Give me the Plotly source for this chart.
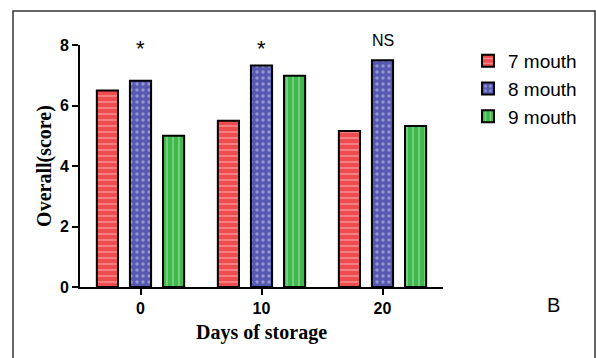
import plotly.graph_objects as go

days = ["0", "10", "20"]
series_names = ["7 mouth", "8 mouth", "9 mouth"]
v7 = [6.5, 5.5, 5.16]
v8 = [6.82, 7.32, 7.5]
v9 = [5.0, 6.98, 5.32]
sig_labels = ["*", "*", "NS"]

colors = ["#EE4C4E", "#5559B1", "#3FB94B"]
shapes_pat = ["-", ".", "|"]

# window pixel positions of the plot area (body margin removed below)
L, R, T, B = 80, 443, 45, 287
PW, PH = R - L, B - T
W, H = 596, 358

fig = go.Figure()
for name, vals, c, p in zip(series_names, [v7, v8, v9], colors, shapes_pat):
    fig.add_trace(go.Bar(
        x=days, y=vals, name=name,
        marker=dict(color=c, line=dict(color="black", width=2),
                    pattern=dict(shape=p, fgcolor="rgba(255,255,255,0.75)",
                                 bgcolor=c, size=6, solidity=0.25)),
    ))

for i, lab in enumerate(sig_labels):
    star = lab == "*"
    fig.add_annotation(x=i, y=8, text=lab, showarrow=False, yanchor="middle",
                       xanchor="center", yshift=-3 if star else 5,
                       font=dict(family="Arial", size=22 if star else 16, color="black"))

fig.add_annotation(xref="paper", yref="paper", x=(553 - L) / PW, y=(B - 305) / PH,
                   xanchor="center", yanchor="middle",
                   text="B", showarrow=False, font=dict(family="Arial", size=20, color="black"))

fig.add_shape(type="rect", xref="paper", yref="paper",
              x0=(13 - L) / PW, x1=(595 - L) / PW,
              y0=(B - 420) / PH, y1=(B - 11) / PH,
              line=dict(color="#333333", width=1.5), layer="below")

fig.update_layout(
    width=W, height=H,
    margin=dict(l=L, r=W - R, t=T, b=H - B),
    paper_bgcolor="white", plot_bgcolor="white",
    barmode="group", bargap=0.18, bargroupgap=0.36,
    showlegend=True,
    legend=dict(x=(468 - L) / PW, y=(B - 42) / PH, xanchor="left", yanchor="top",
                font=dict(family="Arial", size=19, color="black"),
                itemsizing="constant", itemwidth=30, bgcolor="rgba(0,0,0,0)"),
    xaxis=dict(range=[-0.5, 2.5], showline=True, linecolor="black", linewidth=2,
               ticks="outside", ticklen=6, tickwidth=2, tickcolor="black",
               tickfont=dict(family="Arial", size=16, color="black", weight="bold"),
               title=dict(text="<b>Days of storage</b>", standoff=9,
                          font=dict(family="Liberation Serif, Times New Roman", size=20, color="black")),
               showgrid=False, zeroline=False),
    yaxis=dict(range=[0, 8], dtick=2, showline=True, linecolor="black", linewidth=2,
               ticks="outside", ticklen=6, tickwidth=2, tickcolor="black",
               tickfont=dict(family="Arial", size=16, color="black", weight="bold"),
               title=dict(text="<b>Overall(score)</b>", standoff=3,
                          font=dict(family="Liberation Serif, Times New Roman", size=20, color="black")),
               showgrid=False, zeroline=False),
)

fig.write_html("out.html", config={"displayModeBar": False},
               post_script="document.body.style.margin='0';document.body.style.overflow='hidden';")
